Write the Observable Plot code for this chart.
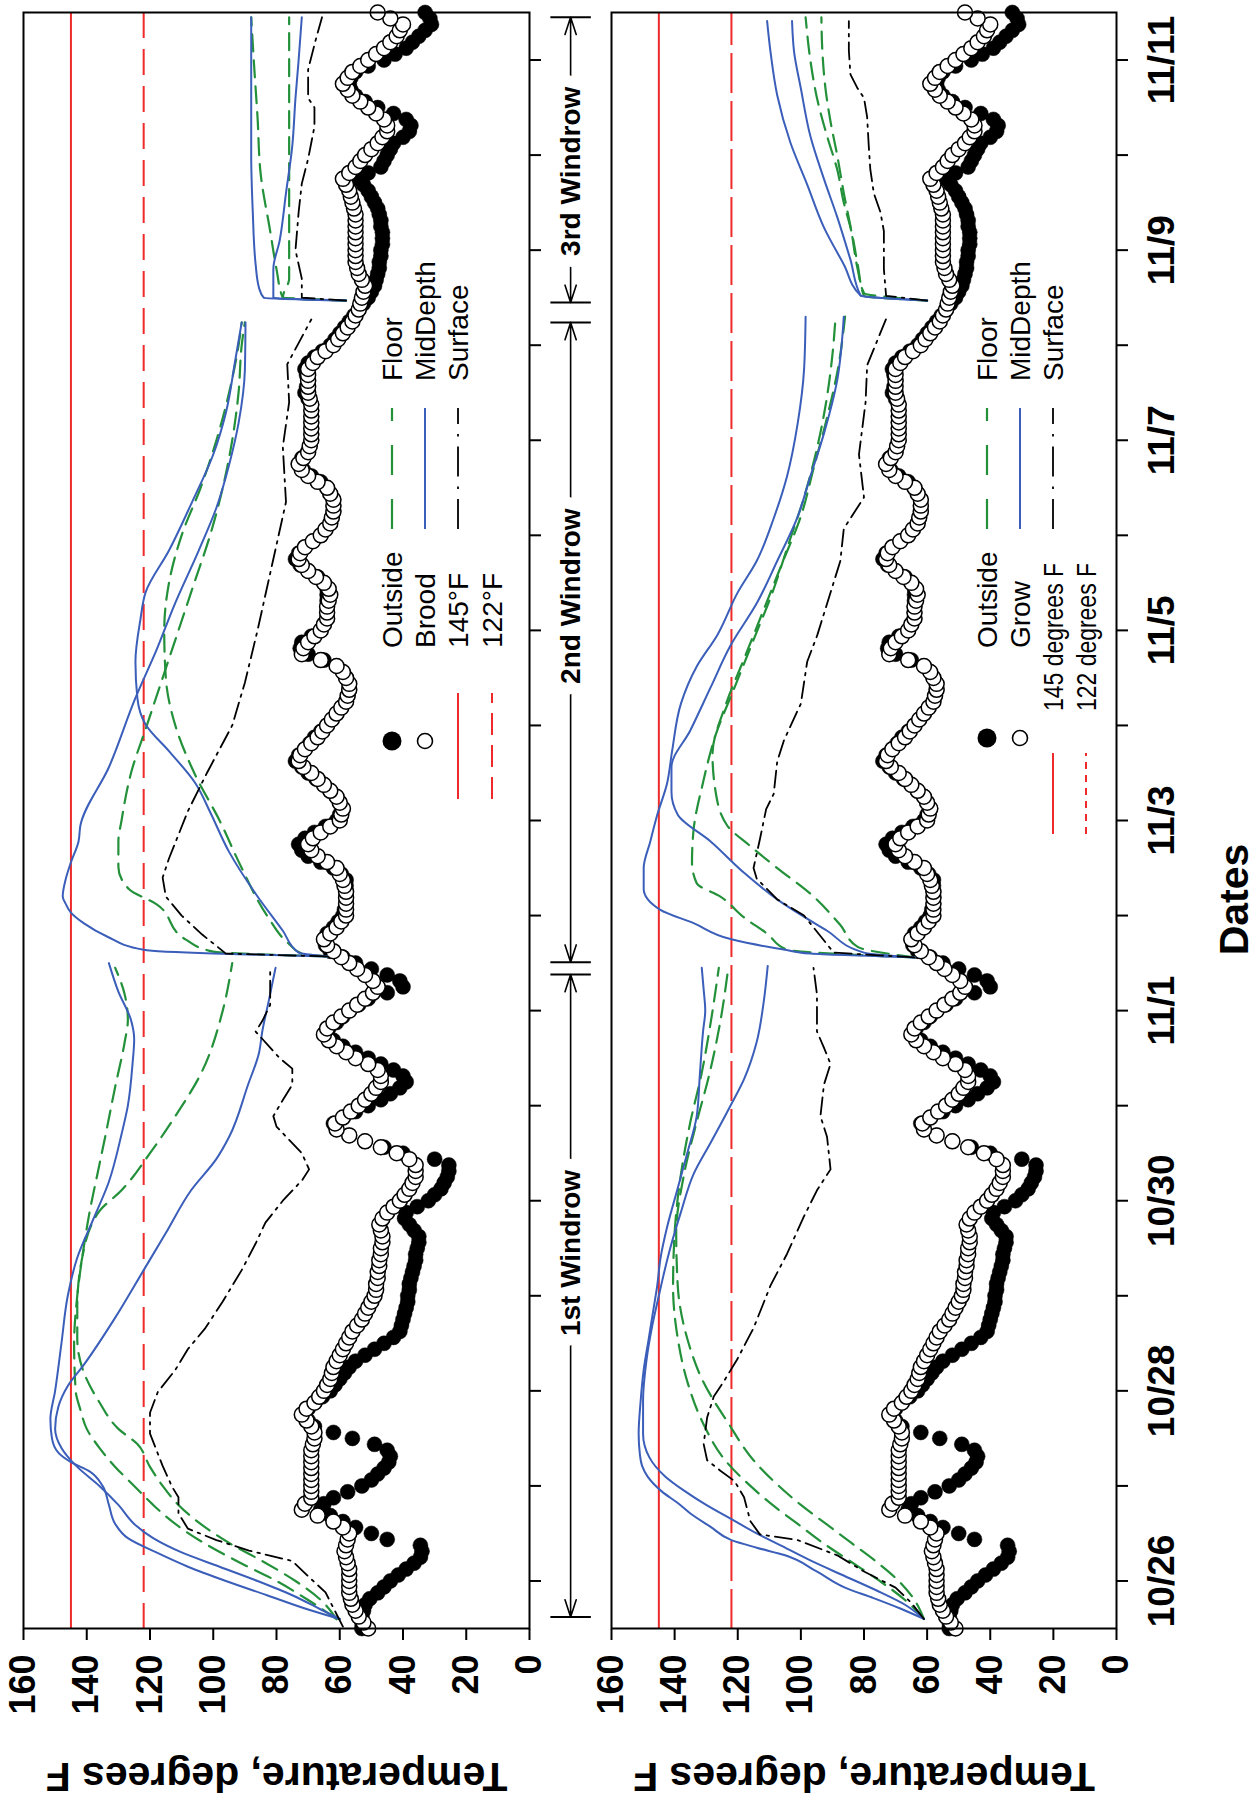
<!DOCTYPE html>
<html><head><meta charset="utf-8">
<script src="https://cdn.jsdelivr.net/npm/d3@7"></script>
<script src="https://cdn.jsdelivr.net/npm/@observablehq/plot@0.6"></script>
<style>
html,body{margin:0;padding:0;background:#fff;width:1257px;height:1803px;overflow:hidden}
#rot{position:absolute;left:0;top:0;width:1803px;height:1257px;transform-origin:0 0;transform:translate(0px,1803px) rotate(-90deg);background:#fff}
#rot > div{position:absolute;left:0}
</style></head><body><div id="rot"><div id="p1" style="top:0"></div><div id="p2" style="top:600px"></div></div>
<script>
// ---------- axes ----------
const dayTicks = [0,1,2,3,4,5,6,7,8,9,10,11,12,13,14,15,16]; // days after 10/26
const dateLabels = ["10/26","10/28","10/30","11/1","11/3","11/5","11/7","11/9","11/11"];
const tempTicks = [0,20,40,60,80,100,120,140,160];
const thresholdHigh = 145, thresholdLow = 122;

// ---------- ambient temperatures (every 1.5 h, starting 10/25 12:00) ----------
const circleStartDay = -0.5, circleStepDay = 0.0625;
const outside = [53,53,53,52.5,52,50.5,48,46,
 44,41.5,39,36.5,34.5,34,34.5,45,50,55,59,63,66,65,62,57.5,
 53,50,48,46,44.5,44,45,49,56,62,68,70,71,70,68,65.5,
 63,61.5,60,58.5,57,55,52,49,46,43,41,40.5,40,39.5,39,38.5,
 38.5,38,38,37.5,37,36.5,36,36,35.5,35,35,36.5,38,39.5,39,35.5,
 32,30,28,27,26,25.5,25.5,30,40,46,52,57,61,62,59,55,
 51,47,44,41,39,40,43,47,51,55,59,62,64,63.5,61,59,
 57,54,51,45,40,41,45,50,55,59,63,64.5,65,64,62,60.5,
 59,58.5,58,58,58,58,58,59.5,62,66,70,72,73,71,68,64.5,
 61,60,59,60,61,63,65,67.5,70,72,74,73,71,69.5,68,66,
 64,62.5,61,59.5,58,57.5,57,57,58,59,61,65,70,72.5,72,69,
 66,65,64,64,64,64,64,64,65,67,70,72.5,74,73,71,68.5,
 66,64.5,63,62.5,62,62,62,63,64,66,69,71.5,73,72,70,69.5,
 69,69,69,69,69,69,69,70,71,70.5,70,70.5,71,70,68,65.5,
 63,61.5,60,58.5,57,55.5,54,52.5,51,50,49,48.5,48,47.5,47.5,47,
 47,46.5,46.5,46.5,47,47,47.5,48,49,50,51,52.5,54,51,47,46,
 45,44,43,40,38,37.5,39,43,48,52,55,56.5,57,56.5,55,51,
 46,42.5,39,37,35,33,31,31.5,33];
const brood = [51,52.5,54,55,56,56.5,57,57,
 57,57,57,57.5,58,58.5,58,57.5,57,59,62,67,72,71,69,69,
 69,69,69,69,69,69,69,68.5,68,68,69,70.5,72,70.5,68,66.5,
 65,64,63,62.5,62,61,60,59,58,57,56,54.5,53,52,51,50,
 49,48.5,48.5,48,48,47.5,47.5,47,47,46.5,46.5,47,47.5,46.5,45,43,
 41,39.5,38,37,36,36,36,38,42,47,52,57,61,61.5,59,56.5,
 54,52,50,48.5,47,47,48,51,55,58,61,63.5,65,64,62,59.5,
 57,54.5,52,49.5,48,49.5,52,54.5,57,59.5,62,64,65,63,61,59.5,
 58,58,58,58,58,58.5,59,60,61,64,67,69,70,68.5,66,63,
 60,59.5,59,60,61,63,65,67,69,71.5,73,72.5,71,69,67,65.5,
 64,62.5,61,59.5,58,57.5,57,57,58,59,61,66,72,71.5,70,68,
 66,65,64,64,64,63.5,63,63.5,65,67.5,70,72,73,72.5,71,68.5,
 66,64.5,63,62.5,62,62,62,63,64,67,70,72,73,71.5,70,69.5,
 69,69,69,69,69,69,69,69.5,70,70,70,70,70,68.5,67,64.5,
 62,60.5,59,57.5,56,55,54,53.5,53,52.5,52,53,54,54.5,55,55,
 55,55,55,55,55,55,55,55.5,56,56.5,57,58,59,57,55,53.5,
 52,50,48,46.5,45,45,46,48.5,51,53.5,56,57.5,59,57.5,56,53.5,
 51,48.5,46,44,42,41,40,44,48];
const grow = brood;

// ---------- Brood pile probes [day, degF] ----------
const broodMid1a = [[-0.4,60],[-0.3,70],[-0.15,83],[0,96],[0.15,108],[0.3,118],[0.45,127],[0.6,131],[0.8,133],[1.0,135],[1.15,139],[1.25,145],[1.35,149],[1.5,151],[1.7,151.5],[2.0,150],[2.5,148],[3.0,146],[3.4,143],[3.8,138],[4.2,133],[4.7,129],[5.0,127],[5.45,125.5],[5.7,125],[5.9,126],[6.2,130],[6.5,133]];
const broodMid1b = [[-0.4,60],[-0.3,66],[-0.15,75],[0,86],[0.15,98],[0.3,110],[0.45,119],[0.6,125],[0.8,130],[1.0,136],[1.2,143],[1.4,148],[1.6,150],[1.83,149],[2.05,146],[2.27,141],[2.77,131],[3.27,122],[3.66,115],[4.11,107],[4.44,99],[4.67,95],[5.22,89],[5.56,85.5],[5.78,84.5],[6.11,82.4],[6.45,80.3]];
const broodFloor1a = [[-0.4,61],[-0.2,70],[0,80],[0.2,92],[0.4,103],[0.6,112],[0.8,119],[1.0,125],[1.2,131],[1.4,136],[1.6,140],[1.8,142],[2.0,143.5],[2.5,144],[3.0,143],[3.5,141],[3.9,139],[4.3,136.5],[4.7,134],[5.2,131],[5.67,128],[5.9,127],[6.17,128],[6.45,131]];
const broodFloor1b = [[-0.4,61],[-0.2,66],[0,74],[0.2,84],[0.4,95],[0.6,104],[0.8,111],[1.0,116],[1.2,120],[1.44,124],[1.6,130],[1.88,136],[2.2,141],[2.55,143],[2.88,143],[3.39,141.5],[3.89,136],[4.11,129],[4.5,120],[4.89,112],[5.33,104],[6.0,97],[6.5,94]];
const broodSurf1 = [[-0.48,59],[-0.35,61],[-0.12,64.5],[0.04,69.7],[0.21,75],[0.32,88.7],[0.43,99],[0.55,108],[0.71,111],[0.88,111],[0.99,113],[1.21,116],[1.38,118],[1.55,120],[1.77,120],[1.99,117.5],[2.22,112],[2.44,108],[2.66,102.5],[2.94,97],[3.27,91],[3.55,86.6],[3.77,83.5],[4.0,78],[4.22,71.8],[4.33,69.7],[4.5,72],[4.78,80],[4.89,81],[5.06,78],[5.22,75],[5.39,75],[5.5,79],[5.61,82],[5.78,86.6],[5.89,84.5],[6.06,82],[6.22,82],[6.45,82]];
const broodMid2a = [[6.57,64],[6.6,100],[6.64,122],[6.78,133.6],[6.92,141],[7.03,145],[7.12,146.6],[7.2,147.6],[7.39,146.6],[7.56,145],[7.78,142.6],[7.95,142],[8.56,133],[9.29,124.6],[9.79,118],[10.29,112],[10.84,104.6],[11.29,99],[11.74,95],[12.18,92],[12.74,90],[13.24,89.8]];
const broodMid2b = [[6.57,64],[6.61,73],[6.84,78],[7.23,86.6],[7.67,95],[8.09,101],[8.39,105.6],[8.73,114],[9.01,121.4],[9.29,124],[9.67,124.6],[10.12,123],[10.4,121.4],[10.84,114],[11.35,106.7],[11.85,100],[12.29,96],[12.85,93],[13.24,91]];
const broodFloor2a = [[6.57,64],[6.62,100],[6.75,108.8],[7.12,118],[7.28,126.7],[7.51,130],[7.78,130],[8.0,129],[8.5,126],[9.0,121],[9.5,116],[10.0,111],[10.5,106],[11.0,101],[11.5,97],[12.0,94],[12.5,92],[13.0,91],[13.24,90]];
const broodFloor2b = [[6.57,64],[6.6,72],[6.7,76],[7.0,83],[7.5,91],[8.0,98],[8.5,106],[9.0,112],[9.5,115],[10.0,115.5],[10.5,114],[11.0,110],[11.5,104],[12.0,99],[12.5,95],[13.0,92],[13.24,91]];
const broodSurf2 = [[6.57,64],[6.6,96],[6.8,103.5],[7.0,110],[7.2,115],[7.4,116],[7.6,114],[8.1,108],[8.5,102],[9.0,94],[9.45,90],[10.0,86],[10.6,82],[11.35,77],[11.93,78],[12.4,76],[12.8,76.6],[13.27,69]];
const broodMid3a = [[13.47,58],[13.5,84],[13.6,85.5],[13.85,86.6],[14.4,87.5],[15.0,88],[15.5,88],[16.0,88],[16.45,88]];
const broodMid3b = [[13.47,58],[13.5,81],[13.8,81],[14.1,79],[14.6,77],[15.1,75],[15.6,74],[16.0,73],[16.45,72]];
const broodFloor3a = [[13.47,58],[13.5,78],[13.7,76],[14.0,76],[14.6,76],[15.1,76],[15.7,76],[16.1,76],[16.45,76]];
const broodFloor3b = [[13.47,58],[13.5,78],[13.8,80],[14.2,82],[14.8,85],[15.4,86],[15.9,87],[16.45,88]];
const broodSurf3 = [[13.47,58],[13.5,72],[13.7,72],[14.0,74],[14.4,73],[14.7,72],[14.96,70],[15.3,68],[15.5,68],[15.6,70],[15.9,70],[16.2,67.7],[16.45,65.6]];

// ---------- Grow pile probes [day, degF] ----------
const growMid1a = [[-0.4,61],[-0.29,68.5],[-0.18,77],[-0.07,86],[0.1,95],[0.27,105],[0.35,114],[0.43,122],[0.57,128.6],[0.71,135],[0.82,139],[0.94,144],[1.1,148.6],[1.21,150.3],[1.33,151],[1.55,151.4],[1.88,150.8],[2.22,149.8],[2.55,148.2],[2.88,146.6],[3.11,145.5],[3.39,144.5],[3.72,142.4],[4.11,139.2],[4.5,136],[4.89,133],[5.33,132],[5.78,131],[6.0,130.3],[6.22,130.8],[6.45,131.4]];
const growMid1b = [[-0.4,61],[-0.25,67],[-0.1,76],[0.05,86],[0.2,96],[0.35,105],[0.5,114],[0.65,122],[0.8,130],[0.95,137],[1.1,143],[1.3,148],[1.55,150],[1.9,150],[2.3,149],[2.7,147],[3.0,145],[3.22,143.5],[3.5,141.4],[3.88,138],[4.28,134],[4.61,128.6],[5.0,122.3],[5.28,118],[5.67,114],[6.11,111.7],[6.47,110.5]];
const growFloor1a = [[-0.4,61],[-0.2,67],[0,75],[0.2,84],[0.4,93],[0.6,101],[0.8,109],[1.0,116],[1.27,124],[1.66,131],[2.1,136],[2.55,139],[3.1,140.5],[3.66,140],[4.28,138],[4.83,135],[5.33,131.5],[5.89,128.5],[6.45,126]];
const growFloor1b = [[-0.4,61],[-0.2,64],[0,69],[0.2,76],[0.4,84],[0.6,92],[0.8,100],[1.0,107],[1.27,115],[1.66,123],[2.1,131],[2.55,136],[3.1,139],[3.66,139.5],[4.28,137],[4.83,133],[5.33,129],[5.89,125.5],[6.45,123]];
const growSurf1 = [[-0.4,61],[-0.23,65],[-0.07,70],[0.1,80],[0.27,88.5],[0.43,101],[0.49,113],[0.63,116],[0.88,118],[1.05,121],[1.16,125.5],[1.27,129.7],[1.44,130.8],[1.72,129.7],[1.94,127.6],[2.1,124.4],[2.33,120.2],[2.66,115],[3.11,109.6],[3.44,104.4],[3.83,99.1],[4.11,94.9],[4.33,90.6],[4.67,91.7],[4.89,93.8],[5.22,92.7],[5.44,90.6],[5.61,92.7],[5.78,94.9],[6.17,94.9],[6.45,96]];
const growMid2a = [[6.56,64],[6.6,97],[6.64,105],[6.75,122],[6.92,134],[7.06,144.5],[7.28,149.8],[7.5,149.8],[7.78,147.7],[8.06,145.5],[8.39,142.4],[8.73,140.8],[9.23,138],[9.62,133],[9.95,126.5],[10.4,120],[10.73,114],[11.18,108.6],[11.62,104.4],[12.18,101],[12.74,99],[13.3,98.5]];
const growMid2b = [[6.56,64],[6.61,80],[6.84,91.7],[7.17,107.5],[7.45,118],[7.78,128.6],[8.06,139],[8.3,141],[8.56,141],[8.95,135],[9.4,128.6],[9.84,122.3],[10.29,113.9],[10.73,107.5],[11.18,101.2],[11.62,97],[12.07,92.7],[12.63,88.5],[13.3,86.4]];
const growFloor2a = [[6.56,64],[6.64,104.4],[6.81,110.7],[6.98,118],[7.2,125.5],[7.34,133],[7.56,134.5],[7.9,134],[8.4,131],[8.9,127],[9.4,121],[9.9,115],[10.4,109],[10.9,104],[11.4,99],[11.9,95],[12.4,92],[12.9,90],[13.3,89]];
const growFloor2b = [[6.56,64],[6.67,82],[6.9,87.5],[7.23,97],[7.5,107.5],[7.73,116],[7.95,123.4],[8.3,127],[8.7,128],[9.2,124],[9.7,118],[10.2,112],[10.7,106],[11.2,100],[11.7,96],[12.2,92],[12.8,88],[13.3,86]];
const growSurf2 = [[6.56,64],[6.61,89.6],[7.0,99],[7.17,107.5],[7.39,114],[7.5,115],[7.8,113],[8.12,111],[8.28,108.6],[8.62,107.5],[8.84,105.4],[9.23,100],[9.67,98],[9.95,94.8],[10.73,87.5],[11.07,86.4],[11.4,80],[11.85,81.6],[12.4,79.5],[12.79,79],[13.3,72.7]];
const growMid3a = [[13.47,60],[13.52,81],[13.85,86.4],[14.24,92.7],[14.69,98],[15.13,103.3],[15.63,107.5],[16.08,109.6],[16.41,110.7]];
const growMid3b = [[13.47,60],[13.52,81],[13.9,84.3],[14.35,88.5],[14.75,92.7],[15.2,97],[15.7,100],[16.1,102.2],[16.41,102.8]];
const growFloor3a = [[13.47,60],[13.52,80],[13.85,82],[14.2,84],[14.5,86.4],[14.85,88.5],[15.2,91.7],[15.6,94.9],[16.0,97],[16.45,98.5]];
const growFloor3b = [[13.47,60],[13.55,80],[13.8,82],[14.2,84],[14.6,86.4],[15.0,88.5],[15.35,90.6],[15.7,92.2],[16.1,93.2],[16.45,93.5]];
const growSurf3 = [[13.47,60],[13.52,73],[13.8,73.7],[14.2,73.7],[14.4,74.8],[14.6,76.9],[14.85,78],[15.1,78.5],[15.4,79],[15.6,80],[15.7,82],[15.85,84.3],[16.1,84.8],[16.41,84.8]];

// ---------- windrow annotation (top panel) ----------
const windrowNames = ["1st Windrow","2nd Windrow","3rd Windrow"];
const windrowStart = [-0.38, 6.51, 13.45];
const windrowEnd = [6.38, 13.24, 16.45];
const windrowLabelDay = [3.45, 10.36, 14.83];
const windrowRowTemp = -13;

// ---------- styling ----------
const GREEN = "#23903a", BLUE = "#3a5eb9", RED = "#ee2a2a";
const FLOOR_DASH = "17,9", SURF_DASH = "17,6,2.5,6";
const TICK_FONT = "'Liberation Sans Narrow','Arial Narrow','Liberation Sans',Arial,sans-serif";
const MAIN_FONT = "'Liberation Sans',Arial,Helvetica,sans-serif";

function rowsOf(list) { return list.flatMap(([id, pts]) => pts.map(([day, temp]) => ({id, day, temp}))); }
function circleRows(vals) { return vals.map((temp, i) => ({day: circleStartDay + i * circleStepDay, temp})); }

function makePanel(cfg) {
  const marks = [
    Plot.ruleY([thresholdHigh], {stroke: RED, strokeWidth: 2}),
    Plot.ruleY([thresholdLow], {stroke: RED, strokeWidth: 2, strokeDasharray: cfg.lowDash}),
    Plot.dot(circleRows(outside), {x: "day", y: "temp", r: 7.5, fill: "black", stroke: "black", strokeWidth: 0.5}),
    Plot.dot(circleRows(cfg.inner), {x: "day", y: "temp", r: 7.5, fill: "white", stroke: "black", strokeWidth: 1.5}),
    Plot.line(rowsOf(cfg.floor), {x: "day", y: "temp", z: "id", stroke: GREEN, strokeWidth: 2.2, strokeDasharray: FLOOR_DASH, curve: "monotone-x"}),
    Plot.line(rowsOf(cfg.mid), {x: "day", y: "temp", z: "id", stroke: BLUE, strokeWidth: 2, curve: "monotone-x"}),
    Plot.line(rowsOf(cfg.surf), {x: "day", y: "temp", z: "id", stroke: "black", strokeWidth: 1.8, strokeDasharray: SURF_DASH}),
    Plot.frame({stroke: "black", strokeWidth: 2}),
    Plot.axisY({ticks: tempTicks, tickSize: 11, tickPadding: 15, strokeWidth: 2, fontSize: 36, fontWeight: 700, fontFamily: TICK_FONT, label: null}),
    Plot.axisX({ticks: dayTicks, tickSize: 12, tickPadding: 19, strokeWidth: 2, fontSize: 37, fontWeight: 700, fontFamily: TICK_FONT, label: null,
      tickFormat: d => (cfg.showDates && d % 2 === 0 ? dateLabels[d / 2] : "")}),
    Plot.text(["Temperature, degrees F"], {text: d => d, frameAnchor: "left", textAnchor: "middle", lineAnchor: "middle", dx: -148, rotate: -90, fontSize: 41, fontWeight: 700, fontFamily: MAIN_FONT})
  ];
  if (cfg.showDates) {
    marks.push(Plot.text(["Dates"], {text: d => d, frameAnchor: "bottom", textAnchor: "middle", lineAnchor: "middle", dy: 118, dx: -79, fontSize: 41, fontWeight: 700, fontFamily: MAIN_FONT}));
  }
  if (cfg.windrows) {
    const arrows = windrowNames.flatMap((n, i) => [{a: windrowLabelDay[i], b: windrowStart[i]}, {a: windrowLabelDay[i], b: windrowEnd[i]}]);
    const bars = windrowNames.flatMap((n, i) => [{d: windrowStart[i]}, {d: windrowEnd[i]}]);
    const labels = windrowNames.map((n, i) => ({name: n, d: windrowLabelDay[i]}));
    marks.push(
      Plot.arrow(arrows, {x1: "a", x2: "b", y1: () => windrowRowTemp, y2: () => windrowRowTemp, stroke: "black", strokeWidth: 1.6, headLength: 17, headAngle: 36}),
      Plot.link(bars, {x1: "d", x2: "d", y1: () => windrowRowTemp + 6.4, y2: () => windrowRowTemp - 6.4, stroke: "black", strokeWidth: 2}),
      Plot.text(labels, {x: "d", y: () => windrowRowTemp, text: "name", fontSize: 28, fontWeight: 700, fontFamily: MAIN_FONT, fill: "black", stroke: "white", strokeWidth: 24})
    );
  }
  const svg = Plot.plot({
    width: 1803, height: cfg.height, marginTop: cfg.marginTop, marginBottom: cfg.marginBottom, marginLeft: 174, marginRight: 13,
    x: {domain: [-0.5, 16.5]},
    y: {domain: [0, 160]},
    style: {fontFamily: MAIN_FONT, background: "white", overflow: "visible", color: "black"},
    marks
  });
  drawLegend(svg, cfg.legend);
  return svg;
}

function drawLegend(svg, L) {
  const g = d3.select(svg).append("g").attr("font-family", MAIN_FONT).attr("font-size", 28).attr("fill", "black").attr("text-anchor", "start");
  const r = L.rows;
  g.append("circle").attr("cx", L.circleU).attr("cy", r[0]).attr("r", 9.5).attr("fill", "black");
  g.append("circle").attr("cx", L.circleU).attr("cy", r[1]).attr("r", 7.5).attr("fill", "white").attr("stroke", "black").attr("stroke-width", 1.6);
  g.append("line").attr("x1", L.red[0]).attr("x2", L.red[1]).attr("y1", r[2]).attr("y2", r[2]).attr("stroke", RED).attr("stroke-width", 2);
  g.append("line").attr("x1", L.red[0]).attr("x2", L.red[1]).attr("y1", r[3]).attr("y2", r[3]).attr("stroke", RED).attr("stroke-width", 2).attr("stroke-dasharray", L.legendLowDash);
  const t = (x, y, s, sx = 1) => g.append("text").attr("transform", `translate(${x},${y}) scale(${sx},1)`).attr("dy", "0.36em").attr("text-anchor", "start").text(s);
  t(L.circleText, r[0], L.names[0]);
  t(L.circleText, r[1], L.names[1]);
  t(L.lineText, r[2], L.names[2], L.lineTextScale);
  t(L.lineText, r[3], L.names[3], L.lineTextScale);
  const c2 = L.col2;
  g.append("line").attr("x1", c2[0]).attr("x2", c2[1]).attr("y1", r[0]).attr("y2", r[0]).attr("stroke", GREEN).attr("stroke-width", 2.2).attr("stroke-dasharray", "30,24");
  g.append("line").attr("x1", c2[0]).attr("x2", c2[1]).attr("y1", r[1]).attr("y2", r[1]).attr("stroke", BLUE).attr("stroke-width", 2);
  g.append("line").attr("x1", c2[0]).attr("x2", c2[1]).attr("y1", r[2]).attr("y2", r[2]).attr("stroke", "black").attr("stroke-width", 1.8).attr("stroke-dasharray", "30,10,2.5,10");
  t(L.col2Text, r[0], "Floor");
  t(L.col2Text, r[1], "MidDepth");
  t(L.col2Text, r[2], "Surface");
}

const p1 = makePanel({
  height: 600, marginTop: 23, marginBottom: 71, inner: brood, lowDash: "26,11", showDates: false, windrows: true,
  floor: [["a1", broodFloor1a], ["b1", broodFloor1b], ["a2", broodFloor2a], ["b2", broodFloor2b], ["a3", broodFloor3a], ["b3", broodFloor3b]],
  mid: [["a1", broodMid1a], ["b1", broodMid1b], ["a2", broodMid2a], ["b2", broodMid2b], ["a3", broodMid3a], ["b3", broodMid3b]],
  surf: [["s1", broodSurf1], ["s2", broodSurf2], ["s3", broodSurf3]],
  legend: {rows: [392, 425, 458, 492], circleU: 1062, red: [1004, 1110], circleText: 1155, lineText: 1155, lineTextScale: 1, col2: [1274, 1395], col2Text: 1422,
    legendLowDash: "22,10", names: ["Outside", "Brood", "145°F", "122°F"]}
});
const p2 = makePanel({
  height: 657, marginTop: 11, marginBottom: 141, inner: grow, lowDash: "40,8", showDates: true, windrows: false,
  floor: [["a1", growFloor1a], ["b1", growFloor1b], ["a2", growFloor2a], ["b2", growFloor2b], ["a3", growFloor3a], ["b3", growFloor3b]],
  mid: [["a1", growMid1a], ["b1", growMid1b], ["a2", growMid2a], ["b2", growMid2b], ["a3", growMid3a], ["b3", growMid3b]],
  surf: [["s1", growSurf1], ["s2", growSurf2], ["s3", growSurf3]],
  legend: {rows: [387, 420, 453, 486], circleU: 1065, red: [969, 1050], circleText: 1155, lineText: 1092, lineTextScale: 0.82, col2: [1274, 1395], col2Text: 1422,
    legendLowDash: "7,6", names: ["Outside", "Grow", "145 degrees F", "122 degrees F"]}
});
document.getElementById("p1").appendChild(p1);
document.getElementById("p2").appendChild(p2);
</script></body></html>
